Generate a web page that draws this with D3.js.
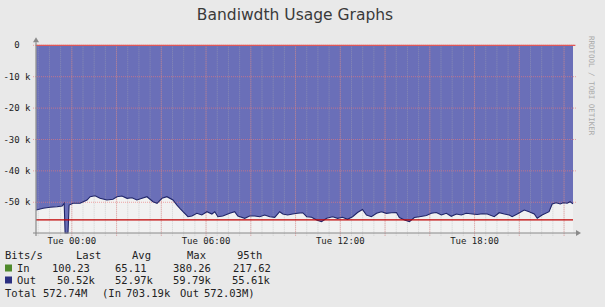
<!DOCTYPE html>
<html>
<head>
<meta charset="utf-8">
<script src="https://cdn.jsdelivr.net/npm/d3@7"></script>
<style>
    body { margin: 0; background: #e9e9e9; }
    text { font-family: "DejaVu Sans Mono", monospace; fill: #222; white-space: pre; }
</style>
</head>
<body>
<div id="chart"></div>
<script>
// Hours relative to Tue 00:00 (negative = Monday evening)
const hours = [
    -1.59, -1.28, -0.97, -0.66, -0.43, -0.34, -0.30, -0.17, -0.12, 0.06,
    0.37, 0.68, 0.82, 1.04, 1.26, 1.57, 1.84, 2.02, 2.24, 2.47,
    2.69, 2.91, 3.14, 3.36, 3.63, 3.81, 4.03, 4.25, 4.52, 4.70,
    4.83, 4.97, 5.19, 5.37, 5.59, 5.81, 6.04, 6.26, 6.39, 6.53,
    6.75, 7.06, 7.28, 7.42, 7.73, 7.95, 8.18, 8.40, 8.62, 8.85,
    9.07, 9.29, 9.43, 9.65, 9.87, 10.09, 10.32, 10.50, 10.72, 10.94,
    11.16, 11.39, 11.66, 11.88, 12.10, 12.32, 12.55, 12.77, 12.99, 13.17,
    13.39, 13.62, 13.84, 14.06, 14.29, 14.51, 14.64, 14.87, 15.09, 15.31,
    15.54, 15.85, 16.07, 16.29, 16.52, 16.74, 16.96, 17.19, 17.41, 17.63,
    17.90, 18.12, 18.35, 18.57, 18.88, 19.10, 19.33, 19.55, 19.68, 19.91,
    20.22, 20.44, 20.67, 20.80, 21.02, 21.33, 21.47, 21.65, 21.83, 21.96,
    22.14, 22.27, 22.40
];

// Out traffic, k bits/s (drawn downward)
const outK = [
    -52.47, -51.93, -51.61, -51.42, -51.19, -50.33, -59.79, -59.79, -50.88, -50.33,
    -50.33, -49.28, -48.23, -47.91, -48.74, -49.28, -49.06, -48.23, -48.01, -48.74,
    -48.55, -49.28, -48.74, -48.23, -49.82, -50.33, -48.74, -48.23, -49.28, -50.88,
    -51.93, -53.01, -54.60, -54.38, -53.52, -54.06, -53.01, -53.74, -53.01, -54.60,
    -54.38, -53.52, -53.01, -54.38, -55.11, -54.38, -54.38, -54.60, -54.06, -54.60,
    -54.79, -53.01, -53.74, -54.06, -53.74, -53.52, -53.33, -54.60, -54.79, -55.65,
    -56.20, -55.11, -54.60, -55.11, -54.79, -55.43, -54.60, -53.27, -52.31, -54.06,
    -54.60, -53.52, -53.01, -53.52, -53.33, -53.27, -54.86, -55.65, -56.20, -54.86,
    -54.60, -54.22, -53.52, -53.27, -54.06, -53.52, -54.48, -53.74, -54.06, -53.52,
    -53.74, -53.90, -53.65, -53.74, -54.60, -53.33, -53.74, -54.06, -54.60, -53.74,
    -52.47, -53.01, -53.74, -55.11, -54.06, -53.01, -50.56, -50.14, -50.56, -50.14,
    -50.33, -49.82, -50.52
];

const yTicks = [0, -10, -20, -30, -40, -50];
const out95th = -55.61;

const legendHeaders = ["Bits/s", "Last", "Avg", "Max", "95th"];
const inStats = ["100.23", "65.11", "380.26", "217.62"];
const outStats = ["50.52k", "52.97k", "59.79k", "55.61k"];
const totalParts = ["Total", "572.74M", "(In", "703.19k", "Out", "572.03M)"];

const W = 605, H = 307;
const pLeft = 36, pRight = 573, pTop = 45.3, pBottom = 233;

const svg = d3.select("#chart")
    .append("svg")
    .attr("width", W)
    .attr("height", H);

svg.append("rect").attr("width", W).attr("height", H).attr("fill", "#e9e9e9");

const base = new Date(2024, 0, 2); // a Tuesday
const t = h => new Date(base.getTime() + h * 3600 * 1000);

const x = d3.scaleTime()
    .domain([t(-1.6), t(22.4)])
    .range([pLeft, pRight]);

const y = d3.scaleLinear()
    .domain([-59.79, 0])
    .range([pBottom, pTop]);

const data = hours.map((h, i) => ({ time: t(h), v: outK[i] }));

// canvas
svg.append("rect")
    .attr("x", pLeft).attr("y", pTop)
    .attr("width", pRight - pLeft).attr("height", pBottom - pTop)
    .attr("fill", "#f1f1f1");

// Out area
const area = d3.area()
    .x(d => x(d.time))
    .y0(y(0))
    .y1(d => y(d.v));

svg.append("path")
    .datum(data)
    .attr("fill", "#6a6fb8")
    .attr("d", area);

// grid
const grid = svg.append("g");
x.ticks(d3.timeMinute.every(30)).forEach(d => {
    grid.append("line")
        .attr("x1", x(d)).attr("x2", x(d))
        .attr("y1", pTop).attr("y2", pBottom + 3)
        .attr("stroke", "rgba(175,175,175,0.45)")
        .attr("stroke-width", 1)
        .attr("stroke-dasharray", "1,1");
});
x.ticks(d3.timeHour.every(2)).forEach(d => {
    grid.append("line")
        .attr("x1", x(d)).attr("x2", x(d))
        .attr("y1", pTop).attr("y2", pBottom + 3)
        .attr("stroke", "rgba(235,120,120,0.6)")
        .attr("stroke-width", 1)
        .attr("stroke-dasharray", "1,1");
});
yTicks.forEach(v => {
    grid.append("line")
        .attr("x1", pLeft - 3).attr("x2", pRight + 3)
        .attr("y1", y(v)).attr("y2", y(v))
        .attr("stroke", "rgba(235,120,120,0.65)")
        .attr("stroke-width", 1)
        .attr("stroke-dasharray", "1,1");
});

// Out edge line
const line = d3.line()
    .x(d => x(d.time))
    .y(d => y(d.v));

svg.append("path")
    .datum(data)
    .attr("fill", "none")
    .attr("stroke", "#1f2468")
    .attr("stroke-width", 1.1)
    .attr("d", line);

// zero line and 95th percentile
svg.append("line")
    .attr("x1", pLeft).attr("x2", pRight + 2)
    .attr("y1", y(0)).attr("y2", y(0))
    .attr("stroke", "#e05858").attr("stroke-width", 1.2);

svg.append("line")
    .attr("x1", pLeft).attr("x2", pRight)
    .attr("y1", y(out95th)).attr("y2", y(out95th))
    .attr("stroke", "#c00000").attr("stroke-width", 1.3);

// axes
svg.append("line")
    .attr("x1", pLeft - 3).attr("x2", pRight + 4)
    .attr("y1", pBottom).attr("y2", pBottom)
    .attr("stroke", "#8a8a8a").attr("stroke-width", 1.2);
svg.append("path")
    .attr("d", `M${pRight + 8},${pBottom} l-5,-3 v6 z`)
    .attr("fill", "#8a8a8a");
svg.append("line")
    .attr("x1", pLeft).attr("x2", pLeft)
    .attr("y1", pBottom + 3).attr("y2", pTop - 3)
    .attr("stroke", "#8a8a8a").attr("stroke-width", 1.2);
svg.append("path")
    .attr("d", `M${pLeft},${pTop - 8} l-3,5 h6 z`)
    .attr("fill", "#8a8a8a");

// y labels
yTicks.forEach(v => {
    svg.append("text")
        .attr("x", 30.5)
        .attr("y", y(v))
        .attr("dy", "0.35em")
        .attr("text-anchor", "end")
        .style("font-size", "9px")
        .text(v === 0 ? "0  " : `${v} k`);
});

// x labels
const fmt = d3.timeFormat("%a %H:%M");
x.ticks(d3.timeHour.every(6)).forEach(d => {
    svg.append("text")
        .attr("x", x(d))
        .attr("y", 244)
        .attr("text-anchor", "middle")
        .style("font-size", "9px")
        .text(fmt(d));
});

// title
svg.append("text")
    .attr("x", 295)
    .attr("y", 20)
    .attr("text-anchor", "middle")
    .style("font-family", "'DejaVu Sans', sans-serif")
    .style("font-size", "15.5px")
    .style("fill", "#3a3a3a")
    .text("Bandiwdth Usage Graphs");

// watermark
svg.append("text")
    .attr("transform", "translate(589,36) rotate(90)")
    .style("font-size", "7.5px")
    .style("fill", "#aaa")
    .text("RRDTOOL / TOBI OETIKER");

// legend
const fs = "10.5px";
const hx = [5, 76, 132, 187, 237];
legendHeaders.forEach((s, i) => {
    svg.append("text").attr("x", hx[i]).attr("y", 259).style("font-size", fs).text(s);
});

const rows = [
    { name: "In", color: "#4f8a2c", stats: inStats, xs: [52, 115, 173, 233], yb: 272 },
    { name: "Out", color: "#2b2f80", stats: outStats, xs: [57, 115, 173, 232], yb: 284 }
];
rows.forEach(r => {
    svg.append("rect")
        .attr("x", 5).attr("y", r.yb - 7.5)
        .attr("width", 7).attr("height", 7)
        .attr("fill", r.color);
    svg.append("text").attr("x", 17).attr("y", r.yb).style("font-size", fs).text(r.name);
    r.stats.forEach((s, i) => {
        svg.append("text").attr("x", r.xs[i]).attr("y", r.yb).style("font-size", fs).text(s);
    });
});

const tx = [5, 43, 102, 126, 180, 204];
totalParts.forEach((s, i) => {
    svg.append("text").attr("x", tx[i]).attr("y", 296.5).style("font-size", fs).text(s);
});
</script>
</body>
</html>
